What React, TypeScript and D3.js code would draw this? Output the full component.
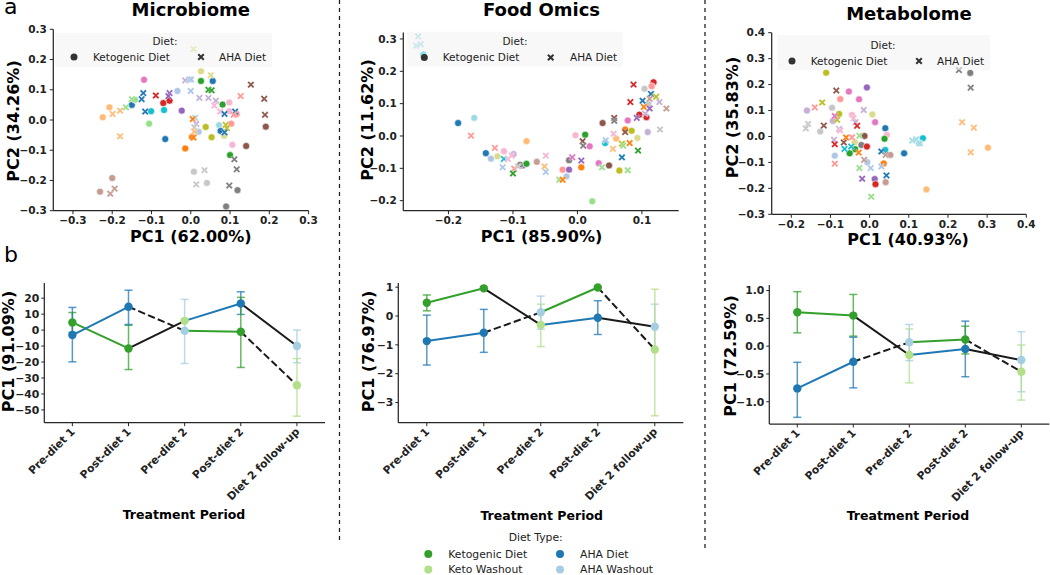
import React from 'react';
import * as d3 from 'd3';

// ---------- DATA ----------
const subjectPalette = ['#1f77b4','#aec7e8','#ff7f0e','#ffbb78','#2ca02c','#98df8a','#d62728','#ff9896','#9467bd','#c5b0d5','#8c564b','#c49c94','#e377c2','#f7b6d2','#7f7f7f','#c7c7c7','#bcbd22','#dbdb8d','#17becf','#9edae5'];

// [PC1, PC2, subject colour index]
const microbiomeKeto = [
  [-0.119,0.133,12],[0.026,0.161,17],[0.026,0.129,4],[0.056,0.129,0],[-0.034,0.096,1],[-0.150,0.050,0],
  [-0.142,0.067,5],[-0.207,0.042,3],[-0.224,0.009,3],[-0.070,0.056,6],[-0.054,0.064,6],[-0.101,0.029,18],
  [-0.068,0.033,18],[-0.023,0.031,8],[-0.106,-0.012,5],[-0.065,-0.063,0],[-0.014,-0.094,2],[0.003,-0.056,2],
  [0.038,-0.023,16],[0.053,-0.057,16],[0.020,-0.039,1],[0.008,-0.171,15],[0.041,-0.208,15],[0.090,-0.286,14],
  [0.119,-0.232,14],[0.081,0.051,4],[0.098,0.058,13],[0.098,0.029,13],[0.072,-0.017,19],[0.076,-0.036,0],
  [0.103,-0.012,7],[0.117,0.020,7],[0.106,-0.082,13],[0.100,-0.116,4],[0.141,-0.086,10],[0.191,-0.022,10],
  [-0.231,-0.237,11],[-0.200,-0.192,11],[0.085,-0.052,17],
];
const microbiomeAHA = [
  [0.007,0.234,17],[0.051,0.148,17],[0.045,0.100,4],[0.053,0.098,4],[-0.014,0.131,9],[-0.004,0.134,1],
  [0.001,0.134,1],[0.000,0.096,1],[-0.121,0.089,0],[-0.125,0.069,0],[-0.150,0.069,5],[-0.165,0.042,5],
  [-0.089,0.081,6],[-0.054,0.089,8],[-0.057,0.079,8],[-0.116,0.028,0],[-0.180,0.031,3],[-0.199,0.020,3],
  [-0.180,-0.054,3],[0.022,0.073,9],[0.045,0.073,9],[0.064,0.064,9],[0.060,0.048,13],[0.011,0.007,19],
  [0.005,0.003,2],[0.014,-0.013,9],[0.009,-0.024,15],[0.007,-0.058,2],[0.009,-0.038,3],[0.075,0.028,13],
  [0.086,0.020,0],[0.113,0.028,0],[0.109,0.017,7],[0.127,0.079,7],[0.153,0.117,10],[0.187,0.070,10],
  [0.189,0.017,10],[0.089,-0.016,16],[0.092,-0.027,16],[0.086,-0.041,0],[0.111,-0.130,14],[0.117,-0.163,14],
  [0.098,-0.217,14],[0.035,-0.166,15],[0.014,-0.213,15],[-0.205,-0.244,11],[-0.194,-0.227,11],
];
const foodKeto = [
  [-0.239,0.252,18],[-0.185,0.040,0],[-0.160,0.056,19],[-0.079,-0.016,3],[-0.142,-0.053,0],[-0.134,-0.070,1],
  [-0.124,-0.063,17],[-0.114,-0.047,13],[-0.099,-0.056,9],[-0.085,-0.091,8],[-0.089,-0.089,14],[-0.079,-0.086,4],
  [-0.063,-0.080,11],[-0.023,-0.104,7],[-0.013,-0.104,8],[-0.017,-0.125,1],[-0.013,-0.075,14],[0.006,-0.097,2],
  [-0.003,0.002,13],[0.012,0.004,4],[0.019,-0.032,12],[0.039,0.040,10],[0.043,-0.022,18],[0.033,-0.084,12],
  [0.049,-0.091,10],[0.065,-0.107,16],[0.060,-0.008,3],[0.078,0.048,12],[0.074,0.020,2],[0.084,0.016,16],
  [0.093,-0.006,17],[0.109,0.012,9],[0.096,0.066,6],[0.107,0.058,6],[0.110,0.099,15],[0.104,0.146,15],
  [0.118,0.166,6],[0.115,0.154,7],[0.023,-0.202,5],
];
const foodAHA = [
  [-0.247,0.308,19],[-0.250,0.279,19],[-0.243,0.284,19],[-0.165,0.001,7],[-0.128,-0.037,7],[-0.114,-0.071,18],
  [-0.116,-0.097,1],[-0.108,-0.071,13],[-0.102,-0.061,13],[-0.098,-0.101,7],[-0.100,-0.116,4],[-0.092,-0.094,15],
  [-0.049,-0.061,13],[-0.051,-0.094,3],[-0.049,-0.111,1],[-0.028,-0.135,5],[-0.023,-0.135,2],[-0.008,-0.066,12],
  [0.006,-0.076,8],[0.008,-0.016,10],[0.009,-0.030,14],[0.044,-0.013,1],[0.038,-0.097,5],[0.056,0.007,13],
  [0.055,-0.040,3],[0.057,0.056,10],[0.057,0.047,14],[0.069,-0.066,0],[0.069,-0.024,16],[0.071,-0.030,5],
  [0.074,0.012,10],[0.081,-0.022,2],[0.078,-0.106,5],[0.094,-0.045,4],[0.092,0.056,8],[0.082,0.105,6],
  [0.087,0.159,6],[0.101,0.109,0],[0.103,0.090,2],[0.105,0.069,9],[0.112,0.085,8],[0.114,0.130,0],
  [0.112,0.115,11],[0.122,0.121,16],[0.127,0.105,9],[0.138,0.085,11],[0.128,0.020,15],
];
const metabolomeKeto = [
  [-0.111,0.246,16],[-0.007,0.189,8],[-0.053,0.173,12],[-0.075,0.144,7],[-0.027,0.143,12],[-0.160,0.100,9],
  [-0.096,0.111,15],[-0.078,0.087,16],[0.007,0.085,17],[0.014,0.055,12],[-0.045,0.083,13],[-0.094,0.060,9],
  [-0.126,0.019,15],[0.040,0.032,0],[0.044,0.006,13],[0.038,-0.009,4],[-0.013,0.002,10],[-0.021,-0.033,14],
  [-0.007,-0.039,6],[-0.037,-0.049,4],[-0.051,-0.065,4],[-0.038,-0.022,17],[0.040,-0.052,18],[0.053,-0.071,11],
  [0.088,-0.065,0],[0.036,-0.104,2],[-0.089,-0.074,1],[-0.006,-0.099,1],[0.013,-0.164,8],[0.015,-0.184,6],
  [0.041,-0.176,11],[0.136,-0.007,18],[0.126,-0.026,19],[0.145,-0.204,3],[0.302,-0.043,3],[0.257,0.245,14],
];
const metabolomeAHA = [
  [0.228,0.256,14],[0.258,0.188,14],[0.236,0.055,3],[0.266,0.034,3],[0.258,-0.061,3],[0.109,-0.016,19],
  [0.119,-0.011,19],[0.128,-0.026,19],[-0.085,0.177,10],[-0.121,0.131,16],[-0.140,0.112,7],[-0.157,0.048,15],
  [-0.163,0.031,15],[-0.117,0.042,10],[-0.083,0.064,16],[-0.089,0.079,12],[-0.015,0.102,9],[-0.041,0.070,13],
  [-0.078,0.029,9],[-0.075,0.023,13],[-0.036,0.055,9],[-0.032,0.041,6],[-0.091,-0.013,9],[-0.089,-0.030,6],
  [-0.089,-0.105,7],[-0.066,-0.023,10],[-0.060,-0.004,2],[-0.045,-0.003,7],[-0.064,-0.048,18],[-0.047,-0.039,18],
  [-0.026,0.003,5],[-0.028,-0.062,2],[-0.014,-0.090,11],[-0.026,-0.122,5],[0.003,-0.122,1],[-0.019,-0.163,8],
  [0.004,-0.232,5],[0.030,-0.058,0],[0.041,-0.071,11],[0.030,-0.116,1],[0.043,-0.150,0],
];

const periods = ['Pre-diet 1', 'Post-diet 1', 'Pre-diet 2', 'Post-diet 2', 'Diet 2 follow-up'];

// Group that started on the ketogenic diet: Keto, Keto, Keto washout, AHA, AHA washout
const microbiomeKetoFirst = [4.8, -11.5, 5.8, 16.7, -10.0];
const microbiomeKetoFirstErr = [[-1.4, 11.0], [-24.7, 3.0], null, [9.8, 24.0], [-20.5, 0.0]];
// Group that started on the AHA diet: AHA, AHA, AHA washout, Keto, Keto washout
const microbiomeAhaFirst = [-3.1, 14.6, -0.4, -1.0, -34.5];
const microbiomeAhaFirstErr = [[-19.9, 14.2], [3.5, 25.0], [-20.9, 19.2], [-23.4, 20.5], [-53.9, -17.8]];

const foodKetoFirst = [0.46, 0.96, -0.31, -0.06, -0.37];
const foodKetoFirstErr = [[0.18, 0.73], null, [-1.06, 0.41], [-0.64, 0.53], [-1.15, 0.41]];
const foodAhaFirst = [-0.87, -0.58, 0.13, 0.99, -1.16];
const foodAhaFirstErr = [[-1.70, 0.03], [-1.26, 0.23], [-0.46, 0.69], null, [-3.46, 0.93]];

const metabolomeKetoFirst = [0.61, 0.55, -0.16, -0.05, -0.25];
const metabolomeKetoFirstErr = [[0.24, 0.98], [0.18, 0.93], [-0.66, 0.31], [-0.55, 0.45], [-0.82, 0.26]];
const metabolomeAhaFirst = [-0.76, -0.28, 0.07, 0.12, -0.46];
const metabolomeAhaFirstErr = [[-1.28, -0.29], [-0.75, 0.16], [-0.26, 0.39], [-0.14, 0.36], [-0.97, 0.02]];

const dietTypes = ['Ketogenic Diet', 'AHA Diet', 'Keto Washout', 'AHA Washout'];

// ---------- STYLE ----------
const FONT = "'DejaVu Sans', 'Liberation Sans', sans-serif";
const [AHA_WASH, AHA, KETO_WASH, KETO] = d3.schemePaired;
const BLACK = '#1a1a1a';
const SPINE = '#262626';
const dietColor: Record<string, string> = {
  'Ketogenic Diet': KETO, 'AHA Diet': AHA, 'Keto Washout': KETO_WASH, 'AHA Washout': AHA_WASH,
};

function xPath(a: number, t: number) {
  const p = [[-a, -a + t], [-a + t, -a], [0, -t], [a - t, -a], [a, -a + t], [t, 0], [a, a - t], [a - t, a], [0, t], [-a + t, a], [-a, a - t], [-t, 0]];
  return 'M' + p.map(q => q.join(',')).join('L') + 'Z';
}
const X_SHAPE = xPath(3.5, 1.4);

const scatterPanels = [
  {
    title: 'Microbiome', xLabel: 'PC1 (62.00%)', yLabel: 'PC2 (34.26%)', keto: microbiomeKeto, aha: microbiomeAHA,
    xDomain: [-0.35, 0.3], xRange: [53.3, 308.6], yDomain: [-0.3, 0.3], yRange: [210.7, 29.3],
    xTicks: [-0.3, -0.2, -0.1, 0, 0.1, 0.2, 0.3], yTicks: [-0.3, -0.2, -0.1, 0, 0.1, 0.2, 0.3],
    titleX: 190.8, titleY: 15.5, xLabelX: 190.8, xLabelY: 241.5, yLabelX: 19.3, yLabelY: 121,
    leg: { x0: 55, x1: 272, y0: 33, y1: 67, tx: 165, ty: 45, iy: 57, c1: 74, t1: 93, c2: 201, t2: 219 },
  },
  {
    title: 'Food Omics', xLabel: 'PC1 (85.90%)', yLabel: 'PC2 (11.62%)', keto: foodKeto, aha: foodAHA,
    xDomain: [-0.27, 0.157], xRange: [403.3, 678.7], yDomain: [-0.231, 0.32], yRange: [210.7, 32.5],
    xTicks: [-0.2, -0.1, 0, 0.1], yTicks: [-0.2, -0.1, 0, 0.1, 0.2, 0.3],
    titleX: 541.5, titleY: 16, xLabelX: 541.5, xLabelY: 241.5, yLabelX: 372.5, yLabelY: 120,
    leg: { x0: 406.7, x1: 622.7, y0: 31.7, y1: 66.7, tx: 515, ty: 45, iy: 57.5, c1: 424.3, t1: 442.7, c2: 550.7, t2: 570 },
  },
  {
    title: 'Metabolome', xLabel: 'PC1 (40.93%)', yLabel: 'PC2 (35.83%)', keto: metabolomeKeto, aha: metabolomeAHA,
    xDomain: [-0.25, 0.4], xRange: [771.7, 1026.3], yDomain: [-0.3, 0.4], yRange: [214.3, 32.7],
    xTicks: [-0.2, -0.1, 0, 0.1, 0.2, 0.3, 0.4], yTicks: [-0.3, -0.2, -0.1, 0, 0.1, 0.2, 0.3, 0.4],
    titleX: 909, titleY: 20, xLabelX: 908, xLabelY: 245, yLabelX: 737.5, yLabelY: 117.5,
    leg: { x0: 777.3, x1: 990, y0: 35, y1: 70, tx: 883, ty: 49, iy: 61, c1: 792, t1: 810.7, c2: 919, t2: 937 },
  },
];

const linePanels = [
  {
    yLabel: 'PC1 (91.09%)', ketoFirst: microbiomeKetoFirst, ketoFirstErr: microbiomeKetoFirstErr,
    ahaFirst: microbiomeAhaFirst, ahaFirstErr: microbiomeAhaFirstErr,
    xRange: [44.3, 325], yDomain: [-58, 29.5], yRange: [422.7, 283], yTicks: [-50, -40, -30, -20, -10, 0, 10, 20], fmt: d3.format('d'),
    yLabelX: 14, yLabelY: 351.5, xLabelX: 184, xLabelY: 518.5,
  },
  {
    yLabel: 'PC1 (76.97%)', ketoFirst: foodKetoFirst, ketoFirstErr: foodKetoFirstErr,
    ahaFirst: foodAhaFirst, ahaFirstErr: foodAhaFirstErr,
    xRange: [398.3, 683.3], yDomain: [-3.7, 1.145], yRange: [422.7, 283], yTicks: [-3, -2, -1, 0, 1], fmt: d3.format('d'),
    yLabelX: 374, yLabelY: 351.5, xLabelX: 541.7, xLabelY: 520,
  },
  {
    yLabel: 'PC1 (72.59%)', ketoFirst: metabolomeKetoFirst, ketoFirstErr: metabolomeKetoFirstErr,
    ahaFirst: metabolomeAhaFirst, ahaFirstErr: metabolomeAhaFirstErr,
    xRange: [769.3, 1049.3], yDomain: [-1.40, 1.10], yRange: [424, 285], yTicks: [-1, -0.5, 0, 0.5, 1], fmt: d3.format('.1f'),
    yLabelX: 735.5, yLabelY: 356, xLabelX: 908, xLabelY: 520,
  },
];

function ScatterPanel({ p }: { p: any }) {
  const x = d3.scaleLinear().domain(p.xDomain).range(p.xRange);
  const y = d3.scaleLinear().domain(p.yDomain).range(p.yRange);
  const fmt = d3.format('.1f');
  const [x0, x1] = p.xRange;
  const [yb, yt] = p.yRange;
  const L = p.leg;
  return (
    <g fontFamily={FONT}>
      <text x={p.titleX} y={p.titleY} textAnchor="middle" fontSize={18} fontWeight="bold" fill="#000">{p.title}</text>
      {p.keto.map((d: number[], i: number) => (
        <circle key={'k' + i} cx={x(d[0])} cy={y(d[1])} r={3.5} fill={subjectPalette[d[2]]} stroke="#fff" strokeWidth={0.6} />
      ))}
      {p.aha.map((d: number[], i: number) => (
        <path key={'a' + i} d={X_SHAPE} transform={`translate(${x(d[0])},${y(d[1])})`} fill={subjectPalette[d[2]]} stroke="#fff" strokeWidth={0.3} />
      ))}
      <rect x={L.x0} y={L.y0} width={L.x1 - L.x0} height={L.y1 - L.y0} fill="#f2f2f2" fillOpacity={0.55} />
      <text x={L.tx} y={L.ty} textAnchor="middle" fontSize={10.5} fill="#222">Diet:</text>
      <circle cx={L.c1} cy={L.iy} r={3.5} fill="#333" />
      <text x={L.t1} y={L.iy + 3.7} fontSize={10.5} fill="#222">Ketogenic Diet</text>
      <path d={X_SHAPE} transform={`translate(${L.c2},${L.iy})`} fill="#333" />
      <text x={L.t2} y={L.iy + 3.7} fontSize={10.5} fill="#222">AHA Diet</text>
      <line x1={x0} x2={x1} y1={yb} y2={yb} stroke={SPINE} strokeWidth={1.25} />
      <line x1={x0} x2={x0} y1={yb} y2={yt} stroke={SPINE} strokeWidth={1.25} />
      {p.xTicks.map((t: number) => (
        <g key={'xt' + t}>
          <line x1={x(t)} x2={x(t)} y1={yb} y2={yb + 3.5} stroke={SPINE} strokeWidth={1} />
          <text x={x(t)} y={yb + 13.5} textAnchor="middle" fontSize={10.5} fontWeight="bold" fill="#222">{fmt(t)}</text>
        </g>
      ))}
      {p.yTicks.map((t: number) => (
        <g key={'yt' + t}>
          <line x1={x0 - 3.5} x2={x0} y1={y(t)} y2={y(t)} stroke={SPINE} strokeWidth={1} />
          <text x={x0 - 6.5} y={y(t)} dy="0.35em" textAnchor="end" fontSize={10.5} fontWeight="bold" fill="#222">{fmt(t)}</text>
        </g>
      ))}
      <text x={p.xLabelX} y={p.xLabelY} textAnchor="middle" fontSize={16} fontWeight="bold" fill="#000">{p.xLabel}</text>
      <text transform={`translate(${p.yLabelX},${p.yLabelY}) rotate(-90)`} textAnchor="middle" fontSize={16} fontWeight="bold" fill="#000">{p.yLabel}</text>
    </g>
  );
}

function LinePanel({ p }: { p: any }) {
  const x = d3.scalePoint<string>().domain(periods).range(p.xRange).padding(0.5);
  const y = d3.scaleLinear().domain(p.yDomain).range(p.yRange);
  const line = d3.line<number[]>().x(d => d[0]).y(d => d[1]);
  const [x0, x1] = p.xRange;
  const [yb, yt] = p.yRange;
  const groups = [
    {
      vals: p.ketoFirst, errs: p.ketoFirstErr,
      pointDiet: ['Ketogenic Diet', 'Ketogenic Diet', 'Keto Washout', 'AHA Diet', 'AHA Washout'],
      seg: [{ c: KETO, dash: null }, { c: BLACK, dash: null }, { c: AHA, dash: null }, { c: BLACK, dash: null }],
    },
    {
      vals: p.ahaFirst, errs: p.ahaFirstErr,
      pointDiet: ['AHA Diet', 'AHA Diet', 'AHA Washout', 'Ketogenic Diet', 'Keto Washout'],
      seg: [{ c: AHA, dash: null }, { c: BLACK, dash: '7.4,3.2' }, { c: KETO, dash: null }, { c: BLACK, dash: '7.4,3.2' }],
    },
  ];
  return (
    <g fontFamily={FONT}>
      {groups.map((g, gi) => g.errs.map((e: number[] | null, i: number) => {
        if (!e) return null;
        const cx = x(periods[i])!;
        const col = dietColor[g.pointDiet[i]];
        return (
          <g key={`e${gi}-${i}`} stroke={col} strokeWidth={1.5} strokeOpacity={0.75}>
            <line x1={cx} x2={cx} y1={y(e[0])} y2={y(e[1])} />
            <line x1={cx - 4} x2={cx + 4} y1={y(e[0])} y2={y(e[0])} />
            <line x1={cx - 4} x2={cx + 4} y1={y(e[1])} y2={y(e[1])} />
          </g>
        );
      }))}
      {groups.map((g, gi) => g.seg.map((s, i) => (
        <path key={`s${gi}-${i}`}
          d={line([[x(periods[i])!, y(g.vals[i])], [x(periods[i + 1])!, y(g.vals[i + 1])]]) || ''}
          stroke={s.c} strokeWidth={2} fill="none" strokeDasharray={s.dash || undefined} />
      )))}
      {groups.map((g, gi) => g.vals.map((v: number, i: number) => (
        <circle key={`p${gi}-${i}`} cx={x(periods[i])} cy={y(v)} r={4.2} fill={dietColor[g.pointDiet[i]]} />
      )))}
      <line x1={x0} x2={x1} y1={yb} y2={yb} stroke={SPINE} strokeWidth={1.25} />
      <line x1={x0} x2={x0} y1={yb} y2={yt} stroke={SPINE} strokeWidth={1.25} />
      {periods.map(t => (
        <g key={t}>
          <line x1={x(t)} x2={x(t)} y1={yb} y2={yb + 3.5} stroke={SPINE} strokeWidth={1} />
          <text transform={`translate(${x(t)! + 0.5},${yb + 7}) rotate(-45)`} textAnchor="end" dy="0.35em"
            fontSize={10.8} fontWeight="bold" fill="#222">{t}</text>
        </g>
      ))}
      {p.yTicks.map((t: number) => (
        <g key={'yt' + t}>
          <line x1={x0 - 3} x2={x0} y1={y(t)} y2={y(t)} stroke={SPINE} strokeWidth={1} />
          <text x={x0 - 5} y={y(t)} dy="0.35em" textAnchor="end" fontSize={10.8} fontWeight="bold" fill="#222">{p.fmt(t)}</text>
        </g>
      ))}
      <text x={p.xLabelX} y={p.xLabelY} textAnchor="middle" fontSize={12.5} fontWeight="bold" fill="#000">Treatment Period</text>
      <text transform={`translate(${p.yLabelX},${p.yLabelY}) rotate(-90)`} textAnchor="middle" fontSize={16} fontWeight="bold" fill="#000">{p.yLabel}</text>
    </g>
  );
}

function BottomLegend() {
  const pos = [
    { cx: 428.3, tx: 448.3, cy: 554 },
    { cx: 560, tx: 580, cy: 554 },
    { cx: 428.3, tx: 448.3, cy: 569.5 },
    { cx: 560, tx: 580, cy: 569.5 },
  ];
  return (
    <g fontFamily={FONT}>
      <text x={535.7} y={541} textAnchor="middle" fontSize={10.8} fill="#222">Diet Type:</text>
      {dietTypes.map((d, i) => (
        <g key={d}>
          <circle cx={pos[i].cx} cy={pos[i].cy} r={4} fill={dietColor[d]} />
          <text x={pos[i].tx} y={pos[i].cy + 3.8} fontSize={10.8} fill="#222">{d}</text>
        </g>
      ))}
    </g>
  );
}

export default function App() {
  return (
    <svg width={1050} height={575} viewBox="0 0 1050 575"
      style={{ position: 'absolute', left: 0, top: 0, background: '#fff' }}>
      <rect width={1050} height={575} fill="#fff" />
      <text x={4} y={13.5} fontFamily={FONT} fontSize={22} fill="#000">a</text>
      <text x={4} y={262} fontFamily={FONT} fontSize={22} fill="#000">b</text>
      <line x1={339.5} x2={339.5} y1={0} y2={543} stroke="#222" strokeWidth={1.3} strokeDasharray="4,4" />
      <line x1={705} x2={705} y1={0} y2={550} stroke="#222" strokeWidth={1.3} strokeDasharray="4,4" />
      {scatterPanels.map(p => <ScatterPanel key={p.title} p={p} />)}
      {linePanels.map(p => <LinePanel key={p.yLabel} p={p} />)}
      <BottomLegend />
    </svg>
  );
}
